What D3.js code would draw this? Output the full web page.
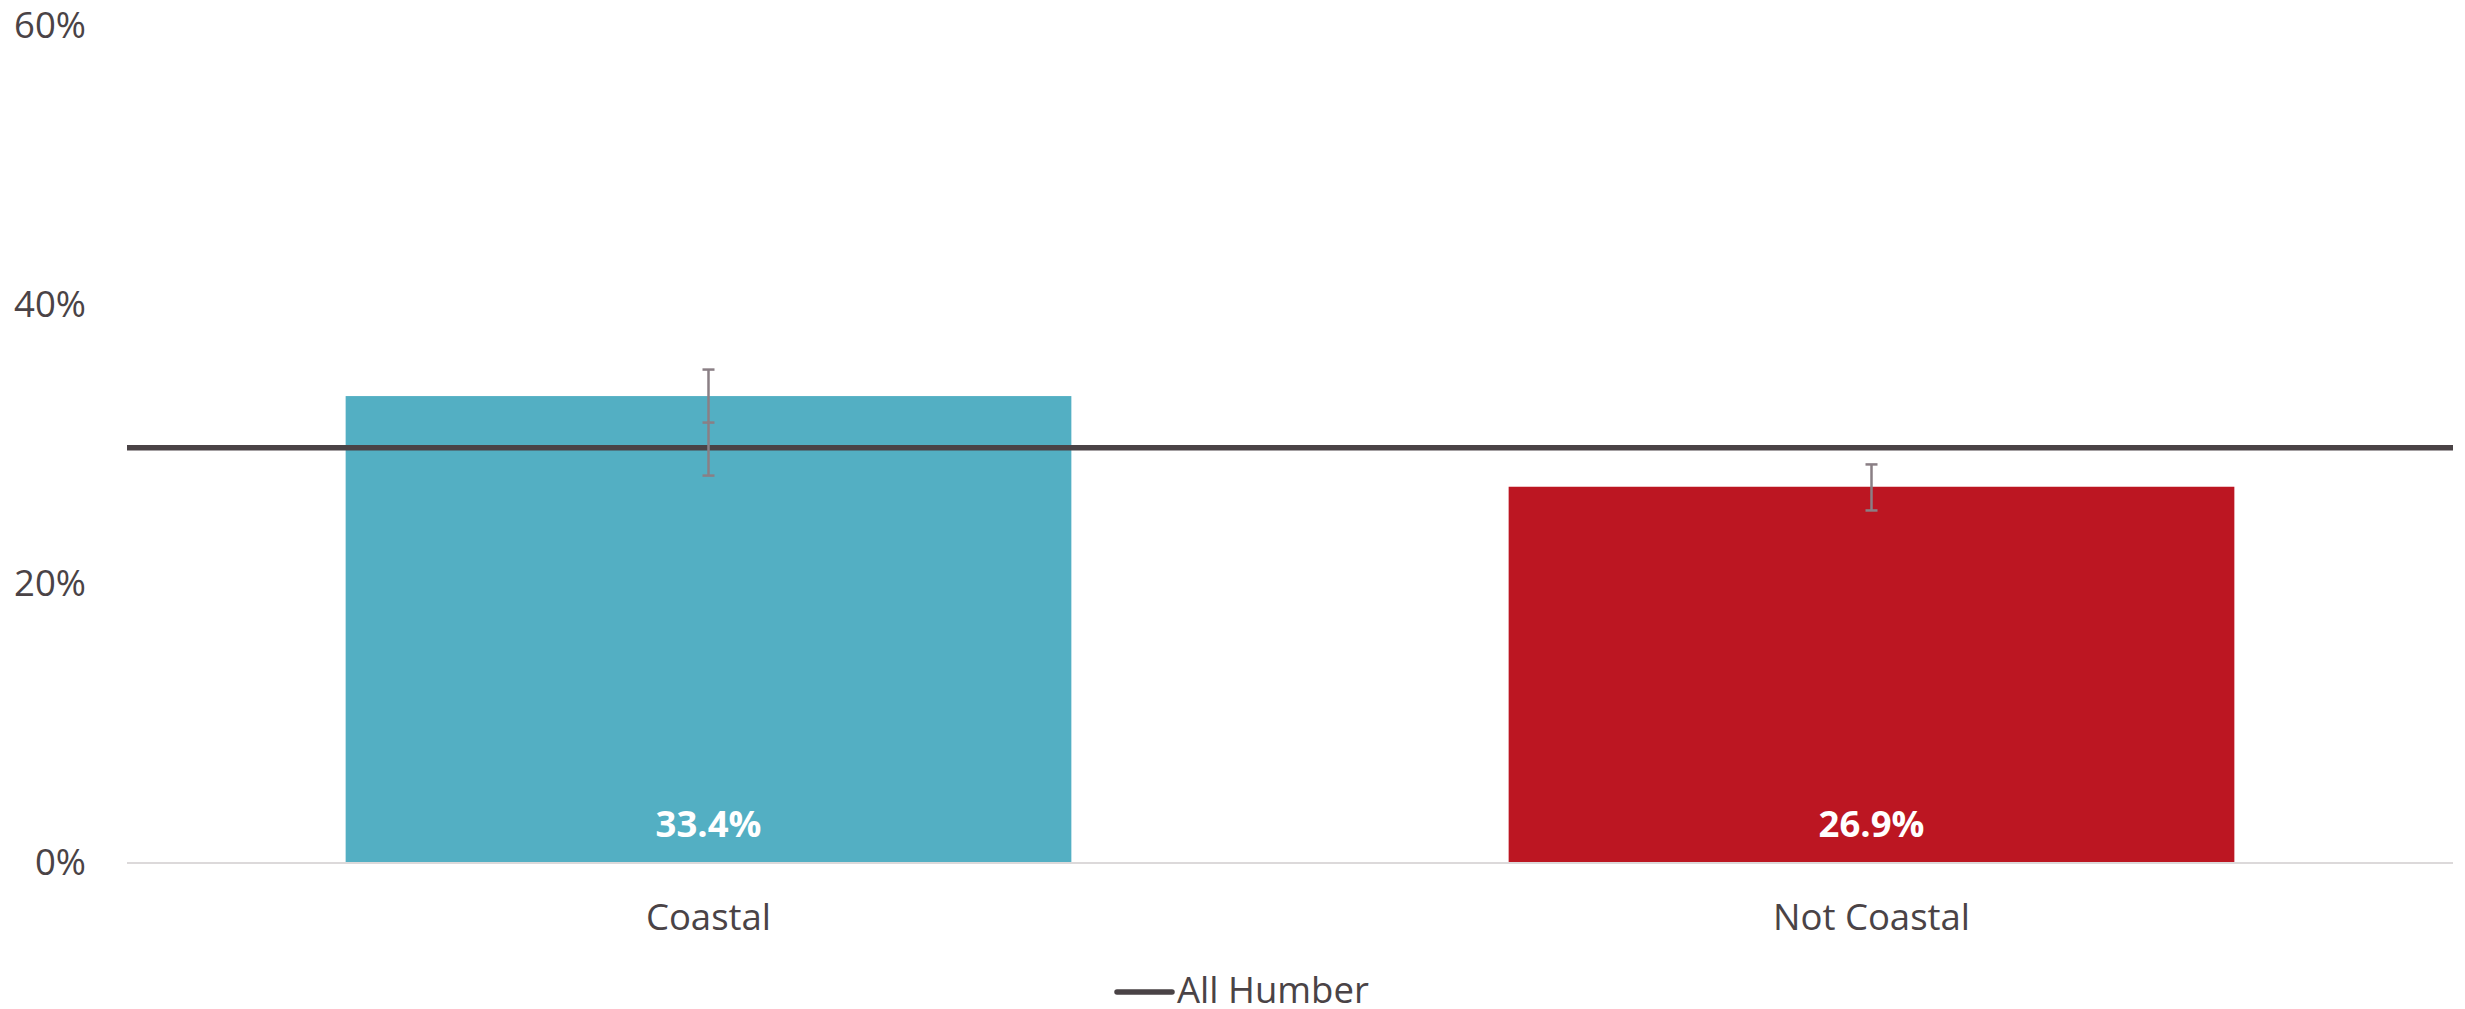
<!DOCTYPE html>
<meta charset="utf-8">
<head>
  <title>Coastal vs Not Coastal</title>
  <script src="https://cdn.jsdelivr.net/npm/d3@7"></script>
  <style>
    body { margin: 0; background: #fff; }
    text { font-family: "Open Sans", sans-serif; fill: #4a4346; }
  </style>
</head>
<body>
<svg></svg>
<script>

  var categories = ["Coastal", "Not Coastal"];
  var values = [33.4, 26.9];          // % bar values
  var errHigh = [35.3, 28.5];         // upper error cap
  var errLow = [27.7, 25.2];          // lower error cap
  var errMid = [31.5, null];          // extra tick on the bar
  var allHumber = 29.7;               // reference line
  var yTicks = [0, 20, 40, 60];
  var colours = ["#53afc3", "#bc1622"];

  var W = 2465, H = 1009;
  var plotL = 127, plotR = 2453, plotT = 25, plotB = 862;

  var svg = d3.select("svg").attr("width", W).attr("height", H);

  var x = d3.scaleBand().domain(categories).range([plotL, plotR]).paddingInner(0.376).paddingOuter(0.188);
  var y = d3.scaleLinear().domain([0, 60]).range([plotB, plotT]);

  // y tick labels
  svg.selectAll(".ylab")
    .data(yTicks)
    .enter()
      .append("text")
      .attr("class", "ylab")
      .attr("x", 86)
      .attr("y", function(d) { return y(d); })
      .attr("dy", "0.36em")
      .attr("text-anchor", "end")
      .style("font-size", "36.5px")
      .text(function(d) { return d + "%"; });

  // bars
  svg.selectAll(".bar")
    .data(values)
    .enter()
      .append("rect")
      .attr("class", "bar")
      .attr("x", function(d, i) { return x(categories[i]); })
      .attr("y", function(d) { return y(d); })
      .attr("width", x.bandwidth())
      .attr("height", function(d) { return y(0) - y(d); })
      .attr("fill", function(d, i) { return colours[i]; });

  // baseline
  svg.append("line")
    .attr("x1", plotL).attr("x2", plotR)
    .attr("y1", y(0) + 1).attr("y2", y(0) + 1)
    .attr("stroke", "#dcd9da").attr("stroke-width", 2);

  // value labels
  svg.selectAll(".vlab")
    .data(values)
    .enter()
      .append("text")
      .attr("class", "vlab")
      .attr("x", function(d, i) { return x(categories[i]) + x.bandwidth() / 2; })
      .attr("y", y(0) - 38)
      .attr("dy", "0.36em")
      .attr("text-anchor", "middle")
      .style("font-size", "36.5px")
      .style("font-weight", "bold")
      .style("fill", "#fff")
      .text(function(d) { return d.toFixed(1) + "%"; });

  // category labels
  svg.selectAll(".xlab")
    .data(categories)
    .enter()
      .append("text")
      .attr("class", "xlab")
      .attr("x", function(d) { return x(d) + x.bandwidth() / 2; })
      .attr("y", 930)
      .attr("text-anchor", "middle")
      .style("font-size", "36.5px")
      .text(function(d) { return d; });

  // reference line
  svg.append("line")
    .attr("x1", plotL).attr("x2", plotR)
    .attr("y1", y(allHumber)).attr("y2", y(allHumber))
    .attr("stroke", "#4a4346").attr("stroke-width", 5.5);

  // error bars
  var eb = svg.selectAll(".err")
    .data(categories)
    .enter()
      .append("g")
      .attr("class", "err")
      .attr("transform", function(d) { return "translate(" + (x(d) + x.bandwidth() / 2) + ",0)"; });

  eb.append("line")
    .attr("y1", function(d, i) { return y(errHigh[i]); })
    .attr("y2", function(d, i) { return y(errLow[i]); })
    .attr("stroke", "#8a7f85").attr("stroke-width", 2.5);

  [errHigh, errLow, errMid].forEach(function(arr) {
    eb.filter(function(d, i) { return arr[i] != null; })
      .append("line")
      .attr("x1", -6).attr("x2", 6)
      .attr("y1", function(d) { return y(arr[categories.indexOf(d)]); })
      .attr("y2", function(d) { return y(arr[categories.indexOf(d)]); })
      .attr("stroke", "#8a7f85").attr("stroke-width", 2.5);
  });

  // legend
  var lg = svg.append("g").attr("transform", "translate(1117, 992)");
  lg.append("line")
    .attr("x1", 0).attr("x2", 55)
    .attr("stroke", "#4a4346").attr("stroke-width", 5.5)
    .attr("stroke-linecap", "round");
  lg.append("text")
    .attr("x", 60).attr("y", 11)
    .style("font-size", "36.5px")
    .text("All Humber");

</script>
</body>
</html>
